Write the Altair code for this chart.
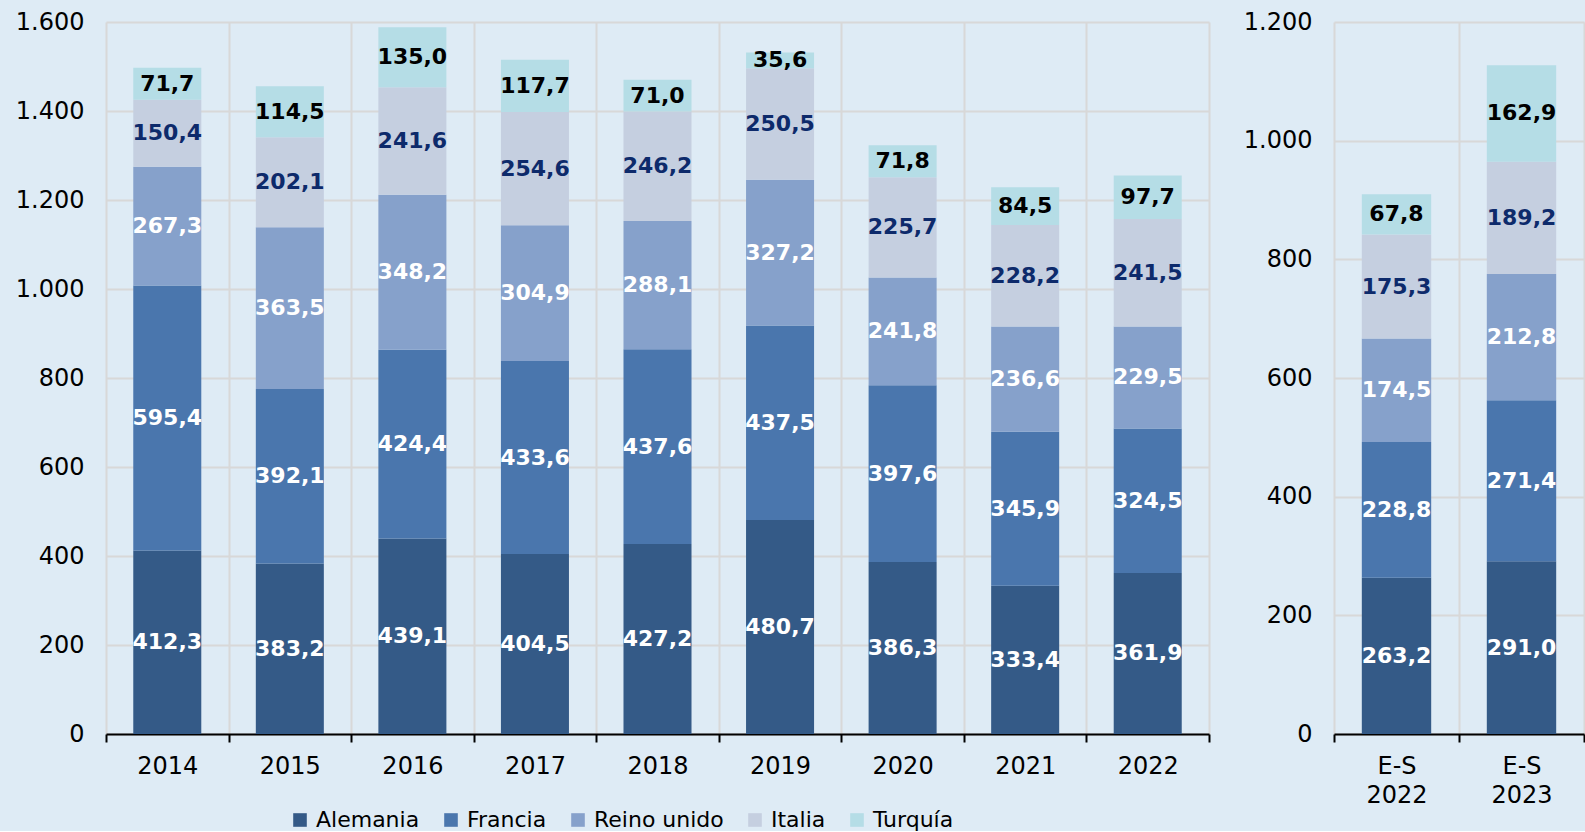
import altair as alt
import pandas as pd

series = ["Alemania", "Francia", "Reino unido", "Italia", "Turquía"]
colors = ["#345a87", "#4a76ad", "#86a1cb", "#c5cfe0", "#b5dde6"]
label_colors = ["#ffffff", "#ffffff", "#ffffff", "#0d2a6b", "#000000"]

years = ["2014", "2015", "2016", "2017", "2018", "2019", "2020", "2021", "2022"]
alemania = [412.3, 383.2, 439.1, 404.5, 427.2, 480.7, 386.3, 333.4, 361.9]
francia = [595.4, 392.1, 424.4, 433.6, 437.6, 437.5, 397.6, 345.9, 324.5]
reino_unido = [267.3, 363.5, 348.2, 304.9, 288.1, 327.2, 241.8, 236.6, 229.5]
italia = [150.4, 202.1, 241.6, 254.6, 246.2, 250.5, 225.7, 228.2, 241.5]
turquia = [71.7, 114.5, 135.0, 117.7, 71.0, 35.6, 71.8, 84.5, 97.7]

periods = ["E-S 2022", "E-S 2023"]
alemania_es = [263.2, 291.0]
francia_es = [228.8, 271.4]
reino_unido_es = [174.5, 212.8]
italia_es = [175.3, 189.2]
turquia_es = [67.8, 162.9]

FONT = "DejaVu Sans"


def build(cats, lists):
    rows = []
    for ci, cat in enumerate(cats):
        for si, s in enumerate(series):
            v = lists[si][ci]
            rows.append(dict(cat=cat, series=s, idx=si, value=v,
                             label=f"{v:.1f}".replace(".", ","),
                             lc=label_colors[si]))
    return pd.DataFrame(rows)


legend = alt.Legend(title=None, orient="none", legendX=183, legendY=787,
                    direction="horizontal", symbolType="square",
                    symbolSize=185, symbolStrokeWidth=0, labelFontSize=22,
                    labelFont=FONT, labelColor="#000000", columnPadding=20,
                    labelOffset=5, padding=0)


def panel(df, cats, ymax, width, height):
    xaxis = alt.Axis(title=None, tickBand="extent", grid=True, labelAngle=0,
                     labelExpr="split(datum.label, ' ')", labelLineHeight=29,
                     labelPadding=12, tickSize=8, tickWidth=2, tickColor="#000000",
                     domainColor="#000000", domainWidth=2, gridColor="#d8d8d8",
                     gridWidth=2, labelFontSize=24, labelFont=FONT,
                     labelColor="#000000")
    x = alt.X("cat:N", sort=cats, axis=xaxis,
              scale=alt.Scale(paddingInner=0, paddingOuter=0))
    yaxis = alt.Axis(title=None, values=list(range(0, ymax + 1, 200)),
                     labelExpr="replace(format(datum.value, ','), ',', '.')",
                     domain=False, ticks=False, labelPadding=22,
                     gridColor="#d8d8d8", gridWidth=2, labelFontSize=24,
                     labelFont=FONT, labelColor="#000000")
    yscale = alt.Scale(domain=[0, ymax], nice=False)
    base = alt.Chart(df)
    bars = base.mark_bar(width=alt.RelativeBandSize(0.555)).encode(
        x=x,
        y=alt.Y("value:Q", stack="zero", scale=yscale, axis=yaxis),
        color=alt.Color("series:N", sort=series,
                        scale=alt.Scale(domain=series, range=colors),
                        legend=legend),
        order=alt.Order("idx:Q", sort="ascending"),
    )
    text = base.transform_stack(
        stack="value", groupby=["cat"],
        sort=[alt.SortField("idx", order="ascending")], as_=["v0", "v1"]
    ).transform_calculate(
        mid="(datum.v0 + datum.v1) / 2"
    ).mark_text(fontSize=22, fontWeight="bold", font=FONT).encode(
        x=x,
        y=alt.Y("mid:Q", scale=yscale, axis=yaxis),
        text="label:N",
        fill=alt.Fill("lc:N", scale=None),
    )
    return alt.layer(bars, text).properties(width=width, height=height)


left = panel(build(years, [alemania, francia, reino_unido, italia, turquia]),
             years, 1600, 1103, 712)
right = panel(build(periods, [alemania_es, francia_es, reino_unido_es,
                              italia_es, turquia_es]),
              periods, 1200, 250, 712)

chart = alt.hconcat(left, right, spacing=33).properties(
    background="#deebf5",
    padding={"left": 15, "top": 10, "right": 0, "bottom": 0},
).configure_view(stroke=None)

chart.save("out.html", embed_options={"renderer": "svg", "actions": False})
